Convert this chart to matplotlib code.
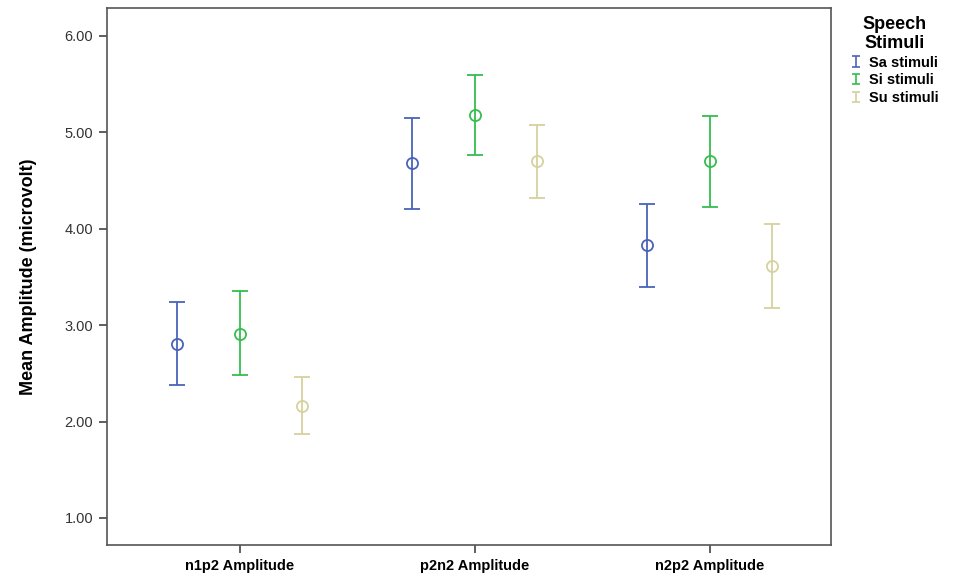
import matplotlib.pyplot as plt
from matplotlib.legend_handler import HandlerErrorbar
import numpy as np

# data
categories = ['n1p2 Amplitude', 'p2n2 Amplitude', 'n2p2 Amplitude']
stimuli = ['Sa stimuli', 'Si stimuli', 'Su stimuli']
means = {
    'Sa stimuli': [2.80, 4.68, 3.83],
    'Si stimuli': [2.91, 5.18, 4.70],
    'Su stimuli': [2.16, 4.70, 3.61],
}
upper = {
    'Sa stimuli': [3.24, 5.15, 4.26],
    'Si stimuli': [3.35, 5.60, 5.17],
    'Su stimuli': [2.46, 5.08, 4.05],
}
lower = {
    'Sa stimuli': [2.38, 4.21, 3.40],
    'Si stimuli': [2.48, 4.77, 4.23],
    'Su stimuli': [1.87, 4.32, 3.18],
}
colors = ['#4A63B8', '#34BE4E', '#D6D19E']
y_ticks = [1, 2, 3, 4, 5, 6]

fig = plt.figure(figsize=(9.7, 5.73), dpi=100)
fig.patch.set_facecolor('white')
ax = fig.add_axes([0.1103, 0.0489, 0.7464, 0.9371])

x = np.arange(len(categories))
offsets = [-0.268, 0.0, 0.262]
handles = []
for s, off, c in zip(stimuli, offsets, colors):
    m = np.array(means[s])
    err = [m - np.array(lower[s]), np.array(upper[s]) - m]
    ax.errorbar(x + off, m, yerr=err, fmt='none', ecolor=c,
                elinewidth=1.3, capsize=6, capthick=1.3)
    ax.plot(x + off, m, 'o', ms=8, mfc='none', mec=c, mew=1.3)
    # small legend glyph, not drawn on the axes
    h = ax.errorbar([np.nan], [np.nan], yerr=[[0], [0]], fmt='none',
                    ecolor=c, elinewidth=1.2, capsize=3, capthick=1.2)
    handles.append(h)

ax.set_xlim(-0.566, 2.515)
ax.set_ylim(0.72, 6.29)
ax.set_xticks(x)
ax.set_xticklabels(categories, fontsize=10.5, fontweight='bold',
                   family='Liberation Sans')
ax.set_yticks(y_ticks)
ax.set_yticklabels([f'{v:.2f}' for v in y_ticks], fontsize=10.5,
                   family='Liberation Sans', color='#333333')
ax.tick_params(axis='both', direction='out', length=6, width=1.2,
               color='#444444', pad=4)
for sp in ax.spines.values():
    sp.set_color('#555555')
    sp.set_linewidth(1.2)

ax.set_ylabel('Mean Amplitude (microvolt)', fontsize=13, fontweight='bold',
              family=['Liberation Sans Narrow', 'DejaVu Sans Condensed',
                      'Liberation Sans'],
              labelpad=20)

leg = fig.legend(handles=handles, labels=stimuli, loc='upper left',
                 bbox_to_anchor=(0.864, 0.995), frameon=False,
                 title='Speech\nStimuli', handlelength=0.6,
                 handletextpad=0.6, labelspacing=0.25,
                 handler_map={type(handles[0]): HandlerErrorbar(yerr_size=0.35)},
                 title_fontproperties={'family': 'Liberation Sans',
                                       'weight': 'bold', 'size': 13},
                 prop={'family': 'Liberation Sans', 'weight': 'bold',
                       'size': 10.5})
t = leg.get_title()
t.set_linespacing(1.15)
t.set_multialignment('center')

fig.savefig('out.png', dpi=100, facecolor='white')
